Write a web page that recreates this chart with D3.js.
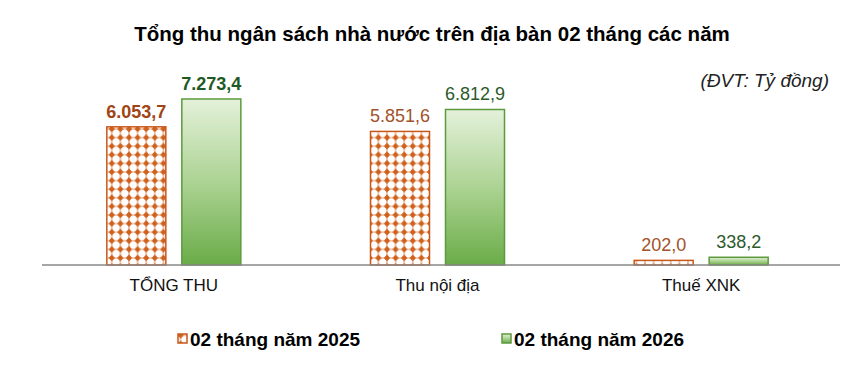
<!DOCTYPE html>
<html>
<head>
<meta charset="utf-8">
<script src="https://cdn.jsdelivr.net/npm/d3@7/dist/d3.min.js"></script>
<style>
  html, body { margin: 0; padding: 0; background: #fff; }
  svg { display: block; font-family: "Liberation Sans", Arial, sans-serif; }
</style>
</head>
<body>
<svg id="chart" width="865" height="367"></svg>
<script>
// Budget revenue in the area, first two months of each year (billion VND)
const categories = ["TỔNG THU", "Thu nội địa", "Thuế XNK"];
const series2025 = [6053.7, 5851.6, 202.0];
const series2026 = [7273.4, 6812.9, 338.2];
const seriesNames = ["02 tháng năm 2025", "02 tháng năm 2026"];

const fmt = v => {
  const [i, d] = v.toFixed(1).split(".");
  return i.replace(/\B(?=(\d{3})+(?!\d))/g, ".") + "," + d;
};

const svg = d3.select("#chart");
const defs = svg.append("defs");

// Orange dotted fill: white discs on an orange ground, orange knots between them
const P = 8.6;
const pat = defs.append("pattern")
  .attr("id", "dots").attr("patternUnits", "userSpaceOnUse")
  .attr("width", P).attr("height", P);
pat.append("rect").attr("width", P).attr("height", P).attr("fill", "#d0611c");
pat.append("circle").attr("cx", P / 2).attr("cy", P / 2).attr("r", 4.0).attr("fill", "#ffffff");
[[0, 0], [P, 0], [0, P], [P, P]].forEach(([cx, cy]) =>
  pat.append("circle").attr("cx", cx).attr("cy", cy).attr("r", 2.3).attr("fill", "#d0611c"));

// Green vertical gradient
const grad = defs.append("linearGradient")
  .attr("id", "green").attr("x1", 0).attr("y1", 0).attr("x2", 0).attr("y2", 1);
grad.append("stop").attr("offset", "0%").attr("stop-color", "#e4f1da");
grad.append("stop").attr("offset", "50%").attr("stop-color", "#acd393");
grad.append("stop").attr("offset", "100%").attr("stop-color", "#6aac48");

const baseY = 265;
const x = d3.scaleBand().domain(categories).range([42, 833]);
const y = d3.scaleLinear().domain([0, 8000]).range([baseY, 82.4]);
const barW = 59, gap = 16;

// Title
svg.append("text").attr("x", 432).attr("y", 41).attr("text-anchor", "middle")
  .attr("font-size", 20.5).attr("font-weight", "bold").attr("fill", "#000")
  .text("Tổng thu ngân sách nhà nước trên địa bàn 02 tháng các năm");

svg.append("text").attr("x", 829).attr("y", 87).attr("text-anchor", "end")
  .attr("font-size", 19).attr("font-style", "italic").attr("fill", "#222")
  .text("(ĐVT: Tỷ đồng)");

const g = svg.append("g");

categories.forEach((c, i) => {
  const cx = x(c) + x.bandwidth() / 2;
  const x1 = cx - gap / 2 - barW, x2 = cx + gap / 2;
  const v1 = series2025[i], v2 = series2026[i];
  g.append("rect").attr("x", x1).attr("y", y(v1)).attr("width", barW)
    .attr("height", baseY - y(v1)).attr("fill", "url(#dots)")
    .attr("stroke", "#c8581a").attr("stroke-width", 1.5);
  g.append("rect").attr("x", x2).attr("y", y(v2)).attr("width", barW)
    .attr("height", baseY - y(v2)).attr("fill", "url(#green)")
    .attr("stroke", "#5d9a3c").attr("stroke-width", 1.5);
  const bold = i === 0;
  g.append("text").attr("x", x1 + barW / 2).attr("y", y(v1) - 9)
    .attr("text-anchor", "middle").attr("font-size", 18)
    .attr("font-weight", bold ? "bold" : "normal")
    .attr("fill", bold ? "#a04515" : "#a2522a").text(fmt(v1));
  g.append("text").attr("x", x2 + barW / 2).attr("y", y(v2) - 9)
    .attr("text-anchor", "middle").attr("font-size", 18)
    .attr("font-weight", bold ? "bold" : "normal")
    .attr("fill", bold ? "#1f5a24" : "#2c5a2c").text(fmt(v2));
});

// Category axis
const axis = svg.append("g").attr("transform", `translate(0,${baseY})`)
  .call(d3.axisBottom(x).tickSize(0).tickPadding(14));
axis.select(".domain").attr("stroke", "#888").attr("stroke-width", 1.3)
  .attr("d", `M42,0H840`);
axis.selectAll("text").attr("font-size", 17).attr("fill", "#111")
  .attr("font-family", "Liberation Sans, Arial, sans-serif");

// Legend
const legend = [
  { name: seriesNames[0], fill: "url(#dots)", stroke: "#c8581a", x: 178 },
  { name: seriesNames[1], fill: "url(#green)", stroke: "#5d9a3c", x: 502 }
];
legend.forEach(l => {
  svg.append("rect").attr("x", l.x).attr("y", 334).attr("width", 9).attr("height", 9)
    .attr("fill", l.fill).attr("stroke", l.stroke).attr("stroke-width", 1.5);
  svg.append("text").attr("x", l.x + 12).attr("y", 346)
    .attr("font-size", 19).attr("font-weight", "bold").attr("fill", "#000")
    .text(l.name);
});
</script>
</body>
</html>
